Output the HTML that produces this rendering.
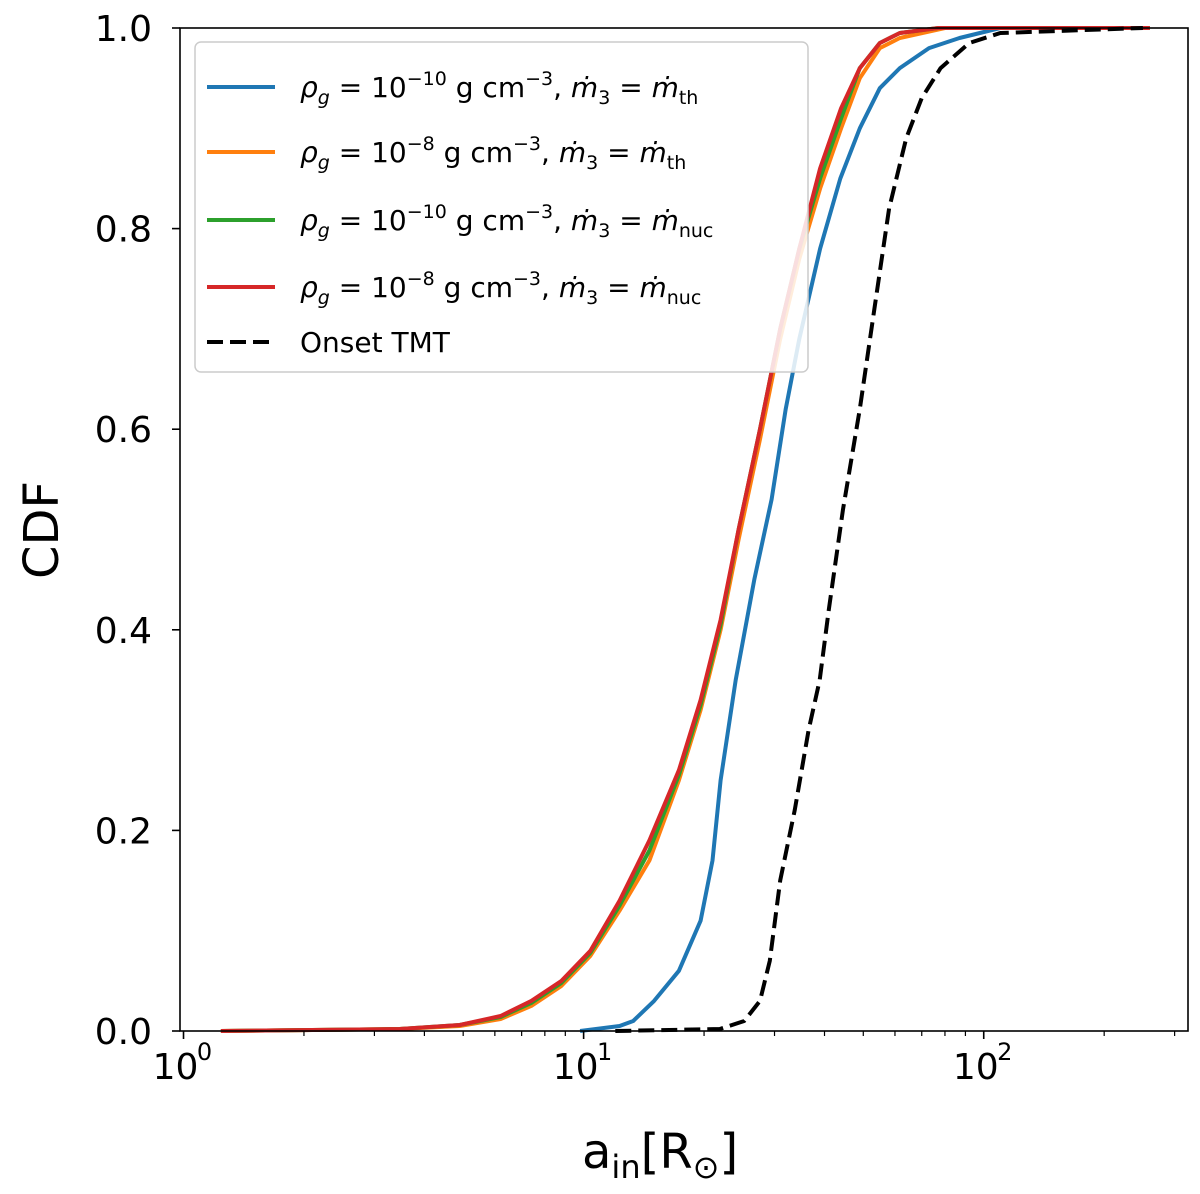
<!DOCTYPE html>
<html><head><meta charset="utf-8"><style>
body{margin:0;background:#fff}
text{font-family:"DejaVu Sans","Liberation Sans",sans-serif;fill:#000}
</style></head><body>
<svg id="chart" width="1200" height="1189" xmlns="http://www.w3.org/2000/svg">
<g id="plot"></g>
</svg>
<script>
const blueX=[9.8,12.3,13.3,15.0,17.3,19.6,21,22,24,26.7,29.5,32,34.6,39,43.8,49,55,61.7,73,87,110,260];
const blueY=[0,0.005,0.01,0.03,0.06,0.11,0.17,0.25,0.35,0.45,0.53,0.62,0.69,0.78,0.85,0.9,0.94,0.96,0.98,0.99,1.0,1.0];
const redX=[1.24,3.47,4.9,6.2,7.4,8.8,10.4,12.3,14.6,17.3,19.6,22,24.4,27.6,31,34.6,39,44,49,55,61.7,77,260];
const redY=[0,0.002,0.006,0.015,0.03,0.05,0.08,0.13,0.19,0.26,0.33,0.41,0.5,0.6,0.7,0.78,0.86,0.92,0.96,0.985,0.995,1.0,1.0];
const orangeX=[1.24,3.47,4.9,6.2,7.4,8.8,10.4,12.3,14.6,17.3,19.6,22,24.4,27.6,31,34.6,39,44,49,55,61.7,80,260];
const orangeY=[0,0.002,0.005,0.012,0.025,0.045,0.075,0.12,0.17,0.25,0.32,0.4,0.49,0.59,0.69,0.77,0.84,0.9,0.95,0.98,0.99,1.0,1.0];
const greenX=redX.slice();
const greenY=[0,0.002,0.006,0.014,0.028,0.048,0.078,0.125,0.18,0.255,0.325,0.405,0.5,0.6,0.7,0.78,0.85,0.91,0.96,0.985,0.995,1.0,1.0];
const tmtX=[12,21.9,25.2,27.6,29.2,31,33.7,36.5,38.9,41,44.5,49,53.3,58,64,70,78,92,110,250];
const tmtY=[0,0.002,0.01,0.03,0.07,0.15,0.22,0.3,0.35,0.42,0.52,0.62,0.72,0.82,0.89,0.93,0.96,0.985,0.995,1.0];
const yTicks=[0,0.2,0.4,0.6,0.8,1.0];
const yTickLabels=["0.0","0.2","0.4","0.6","0.8","1.0"];
const xTicks=[1,10,100];
const xTickExp=["0","1","2"];

const L=180,R=1188,T=28,B=1031;
const lmin=Math.log10(0.98),lmax=Math.log10(324);
const sx=v=>L+(Math.log10(v)-lmin)/(lmax-lmin)*(R-L);
const sy=v=>B-v*(B-T);
const NS="http://www.w3.org/2000/svg";
const g=document.getElementById('plot');
function mk(t,a,p){const e=document.createElementNS(NS,t);for(const k in a)e.setAttribute(k,a[k]);(p||g).appendChild(e);return e;}

function series(xs,ys,color,name,dash){
  const d=xs.map((x,i)=>(i?'L':'M')+sx(x).toFixed(1)+','+sy(ys[i]).toFixed(1)).join('');
  const p=mk('path',{d:d,fill:'none',stroke:color,'stroke-width':4,'stroke-linejoin':'round'});
  if(dash)p.setAttribute('stroke-dasharray',dash);
  
  
}
series(blueX,blueY,'#1f77b4','series-blue');
series(orangeX,orangeY,'#ff7f0e','series-orange');
series(greenX,greenY,'#2ca02c','series-green');
series(redX,redY,'#d62728','series-red');
series(tmtX,tmtY,'#000','series-onset-tmt','16,7');

const fr=mk('rect',{x:L,y:T,width:R-L,height:B-T,fill:'none',stroke:'#000','stroke-width':1.6});



yTicks.forEach((v,i)=>{
  mk('line',{x1:L-8,x2:L,y1:sy(v),y2:sy(v),stroke:'#000','stroke-width':1.6});
  const t=mk('text',{x:L-28,y:sy(v)+13,'text-anchor':'end','font-size':36});
  t.textContent=yTickLabels[i];
  
  
});
xTicks.forEach((v,i)=>{
  const x=sx(v);
  mk('line',{x1:x,x2:x,y1:B,y2:B+8,stroke:'#000','stroke-width':1.6});
  const t=mk('text',{x:x-8,y:B+48,'text-anchor':'middle','font-size':36});
  t.textContent='10';
  
  
  const e=mk('text',{x:x+21,y:B+29,'text-anchor':'middle','font-size':24});
  e.textContent=xTickExp[i];
});
for(let dec=0;dec<3;dec++)for(let m=2;m<=9;m++){
  const v=m*Math.pow(10,dec);if(v<0.98||v>324)continue;
  mk('line',{x1:sx(v),x2:sx(v),y1:B,y2:B+5,stroke:'#000','stroke-width':1.2});
}
</script>
<svg style="position:absolute;left:0;top:0" width="1200" height="1189" xmlns="http://www.w3.org/2000/svg">
<text transform="translate(58,530) rotate(-90)" text-anchor="middle" font-size="48">CDF</text>
<text x="582" y="1168" font-size="48">a<tspan font-size="32" dy="10">in</tspan><tspan dy="-10">[R</tspan><tspan font-size="32" dy="10">⊙</tspan><tspan dy="-10">]</tspan></text>
<g>
<rect x="195" y="42" width="613" height="330" rx="6" fill="#fff" fill-opacity="0.85" stroke="#ccc" stroke-width="1.5"/>
<line x1="207" x2="275" y1="87" y2="87" stroke="#1f77b4" stroke-width="4"/>
<line x1="207" x2="275" y1="152" y2="152" stroke="#ff7f0e" stroke-width="4"/>
<line x1="207" x2="275" y1="220" y2="220" stroke="#2ca02c" stroke-width="4"/>
<line x1="207" x2="275" y1="287" y2="287" stroke="#d62728" stroke-width="4"/>
<line x1="207" x2="275" y1="342" y2="342" stroke="#000" stroke-width="4" stroke-dasharray="16,7"/>
<text x="300" y="97" font-size="28"><tspan font-style="italic">ρ</tspan><tspan font-size="19" dy="7" font-style="italic">g</tspan><tspan dy="-7"> = 10</tspan><tspan font-size="19" dy="-12">−10</tspan><tspan dy="12"> g cm</tspan><tspan font-size="19" dy="-12">−3</tspan><tspan dy="12">,  </tspan><tspan font-style="italic">ṁ</tspan><tspan font-size="19" dy="7">3</tspan><tspan dy="-7"> = </tspan><tspan font-style="italic">ṁ</tspan><tspan font-size="19" dy="7">th</tspan></text>
<text x="300" y="162" font-size="28"><tspan font-style="italic">ρ</tspan><tspan font-size="19" dy="7" font-style="italic">g</tspan><tspan dy="-7"> = 10</tspan><tspan font-size="19" dy="-12">−8</tspan><tspan dy="12"> g cm</tspan><tspan font-size="19" dy="-12">−3</tspan><tspan dy="12">,  </tspan><tspan font-style="italic">ṁ</tspan><tspan font-size="19" dy="7">3</tspan><tspan dy="-7"> = </tspan><tspan font-style="italic">ṁ</tspan><tspan font-size="19" dy="7">th</tspan></text>
<text x="300" y="230" font-size="28"><tspan font-style="italic">ρ</tspan><tspan font-size="19" dy="7" font-style="italic">g</tspan><tspan dy="-7"> = 10</tspan><tspan font-size="19" dy="-12">−10</tspan><tspan dy="12"> g cm</tspan><tspan font-size="19" dy="-12">−3</tspan><tspan dy="12">,  </tspan><tspan font-style="italic">ṁ</tspan><tspan font-size="19" dy="7">3</tspan><tspan dy="-7"> = </tspan><tspan font-style="italic">ṁ</tspan><tspan font-size="19" dy="7">nuc</tspan></text>
<text x="300" y="297" font-size="28"><tspan font-style="italic">ρ</tspan><tspan font-size="19" dy="7" font-style="italic">g</tspan><tspan dy="-7"> = 10</tspan><tspan font-size="19" dy="-12">−8</tspan><tspan dy="12"> g cm</tspan><tspan font-size="19" dy="-12">−3</tspan><tspan dy="12">,  </tspan><tspan font-style="italic">ṁ</tspan><tspan font-size="19" dy="7">3</tspan><tspan dy="-7"> = </tspan><tspan font-style="italic">ṁ</tspan><tspan font-size="19" dy="7">nuc</tspan></text>
<text x="300" y="352" font-size="28">Onset TMT</text>
</g>
</svg>
</body></html>
